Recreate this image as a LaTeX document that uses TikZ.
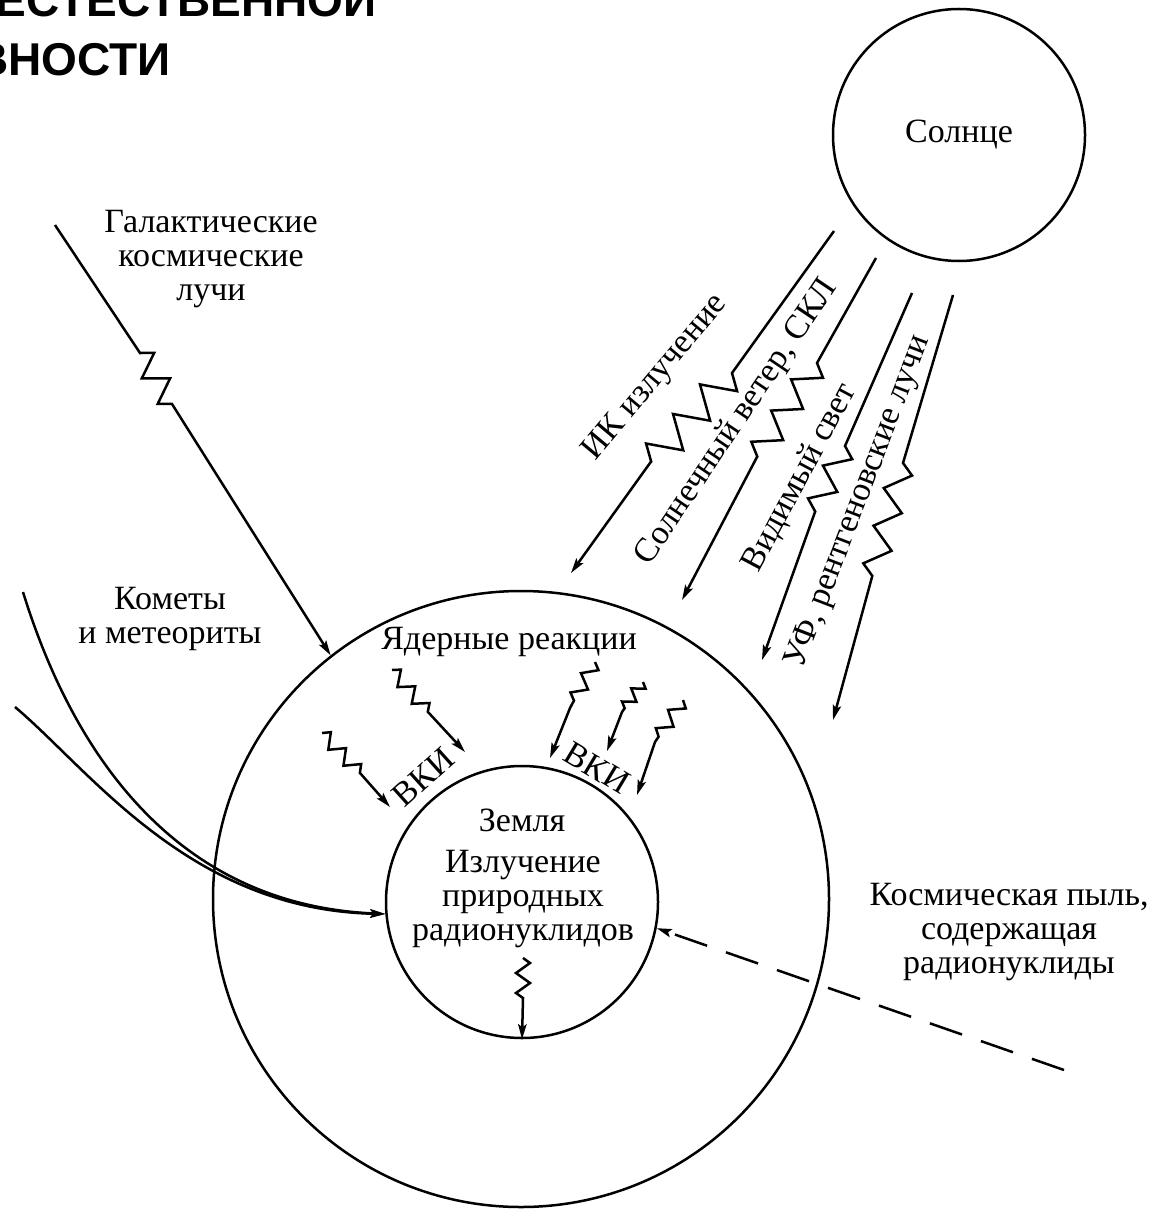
\documentclass[tikz,border=0pt]{standalone}
\usepackage{fontspec}
\setmainfont{Liberation Serif}
\newfontfamily\headfont{Liberation Sans}
\usetikzlibrary{arrows.meta,decorations.pathmorphing}
\begin{document}
\begin{tikzpicture}[x=0.5pt,y=-0.5pt,line width=1.25pt,
  lbl/.style={font=\fontsize{17}{17}\selectfont, inner sep=0pt, align=center},
  head/.style={font=\headfont\bfseries\fontsize{23}{23}\selectfont, anchor=base east, inner sep=0pt},
  tip/.style={-{Stealth[length=7.5pt,width=4.2pt,inset=1.5pt]}},
  zz/.style 2 args={decoration={zigzag,segment length=#1,amplitude=#2}},
  dustline/.style={dash pattern=on 17pt off 10pt}
]
\useasboundingbox (0,0) rectangle (1158,1214);
\fill[white] (0,0) rectangle (1158,1214);
\clip (0,0) rectangle (1158,1214);

% heading (cut off by the page edge)
\node[head] (h1) at (378,17) {ЕСТЕСТВЕННОЙ};
\node[head] (h2) at (172,76) {ВНОСТИ};

% bodies
\node[circle, draw, minimum size=126pt, inner sep=0pt, lbl] (sun) at (959,135) {Солнце};
\node[circle, draw, minimum size=308pt, inner sep=0pt] (atm) at (521,899) {};
\node[circle, draw, minimum size=136pt, inner sep=0pt] (earth) at (522,902) {};

% texts
\node[lbl] (gcr) at (211,259) {Галактические\\космические\\лучи};
\node[lbl] (com) at (170,619) {Кометы\\и метеориты};
\node[lbl] (yad) at (509,642) {Ядерные реакции};
\node[lbl] (zem) at (522,820) {Земля};
\node[lbl] (izl) at (523,899) {Излучение\\природных\\радионуклидов};
\node[lbl] (dust) at (1009,932) {Космическая пыль,\\содержащая\\радионуклиды};
\node[lbl, rotate=42] (vki1) at (423,777) {ВКИ};
\node[lbl, rotate=-31] (vki2) at (597,768) {ВКИ};
\node[lbl, rotate=50] (ir) at (656,378) {ИК излучение};
\node[lbl, rotate=56] (wind) at (737,422) {Солнечный ветер, СКЛ};
\node[lbl, rotate=62] (vis) at (800,478) {Видимый свет};
\node[lbl, rotate=69] (uv) at (859,502) {УФ, рентгеновские лучи};

% galactic cosmic rays
\coordinate (g0) at (55,225);
\coordinate (g1) at (140,353);
\coordinate (g2) at (172,404);
\draw[tip] (g0) -- (g1) decorate[zz={15pt}{6pt}]{-- (g2)} -- (atm.128);

% comets and meteorites
\coordinate (c1) at (23,592);
\coordinate (c2) at (15,707);
\draw[tip] (c1) .. controls (75,760) and (180,905) .. (earth.185);
\draw[tip] (c2) .. controls (90,770) and (190,910) .. (earth.185);

% solar rays
\coordinate (r1s) at (834,231); \coordinate (r1a) at (732,373); \coordinate (r1b) at (650,463); \coordinate (r1e) at (571,573);
\coordinate (r2s) at (876,258); \coordinate (r2a) at (817,363); \coordinate (r2b) at (757,457); \coordinate (r2e) at (682,600);
\coordinate (r3s) at (912,293); \coordinate (r3a) at (845,446); \coordinate (r3b) at (815,512); \coordinate (r3e) at (762,660);
\coordinate (r4s) at (953,295); \coordinate (r4a) at (903,463); \coordinate (r4b) at (872,577); \coordinate (r4e) at (833,720);
\draw[tip] (r1s) -- (r1a) decorate[zz={20pt}{8pt}]{-- (r1b)} -- (r1e);
\draw[tip] (r2s) -- (r2a) decorate[zz={18.5pt}{6.5pt}]{-- (r2b)} -- (r2e);
\draw[tip] (r3s) -- (r3a) decorate[zz={18pt}{6pt}]{-- (r3b)} -- (r3e);
\draw[tip] (r4s) -- (r4a) decorate[zz={19.5pt}{6pt}]{-- (r4b)} -- (r4e);

% secondary cosmic radiation
\coordinate (aS) at (392,670); \coordinate (aZ) at (428,712); \coordinate (aE) at (465,752);
\coordinate (bS) at (322,733); \coordinate (bZ) at (360,773); \coordinate (bE) at (390,807);
\coordinate (cS) at (595,662); \coordinate (cZ) at (570,708); \coordinate (cE) at (550,758);
\coordinate (dS) at (643,682); \coordinate (dZ) at (622,712); \coordinate (dE) at (607,751);
\coordinate (eS) at (683,700); \coordinate (eZ) at (655,742); \coordinate (eE) at (637,795);
\draw[tip] (aS) decorate[zz={11pt}{3.5pt}]{-- (aZ)} -- (aE);
\draw[tip] (bS) decorate[zz={11pt}{3.5pt}]{-- (bZ)} -- (bE);
\draw[tip] (cS) decorate[zz={11pt}{3.5pt}]{-- (cZ)} -- (cE);
\draw[tip] (dS) decorate[zz={8pt}{3pt}]{-- (dZ)} -- (dE);
\draw[tip] (eS) decorate[zz={11pt}{3.5pt}]{-- (eZ)} -- (eE);

% natural radionuclides
\coordinate (nS) at (523,958); \coordinate (nZ) at (523,998);
\draw[tip] (nS) decorate[zz={10pt}{3.5pt}]{-- (nZ)} -- (earth.south);

% cosmic dust
\coordinate (dustend) at (1064,1070);
\draw[tip, dustline] (dustend) -- (earth.-11);
\end{tikzpicture}
\end{document}
